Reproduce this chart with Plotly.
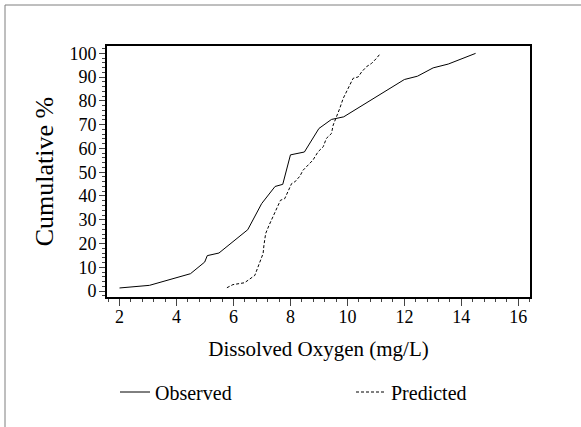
import plotly.graph_objects as go

obs_x = [2.0, 3.05, 4.49, 4.99, 5.08, 5.49, 6.5, 6.99, 7.46, 7.73, 8.0, 8.49, 9.0, 9.44, 9.87, 12.0, 12.46, 13.01, 13.54, 14.5]
obs_y = [1.3, 2.4, 7.3, 12.2, 14.9, 16.0, 25.8, 36.8, 44.0, 44.9, 57.3, 58.5, 68.4, 72.2, 73.3, 89.0, 90.4, 93.9, 95.5, 100.0]

pred_x = [5.77, 5.98, 6.39, 6.57, 6.75, 6.86, 6.98, 7.04, 7.07, 7.13, 7.25, 7.33, 7.45, 7.56, 7.65,
          7.80, 7.92, 8.04, 8.15, 8.33, 8.44, 8.62, 8.79, 8.97, 9.15, 9.26, 9.44, 9.50, 9.62, 9.73,
          9.85, 9.97, 10.08, 10.20, 10.38, 10.50, 10.67, 10.85, 11.02, 11.16]
pred_y = [1.4, 2.7, 3.5, 5.2, 6.6, 10.1, 13.6, 15.8, 19.3, 24.2, 27.7, 29.8, 32.6, 35.7, 38.2,
          38.9, 42.4, 45.2, 45.9, 48.3, 50.8, 53.0, 55.1, 58.6, 60.7, 64.2, 66.3, 69.8, 73.3, 76.8,
          81.0, 83.8, 86.6, 89.5, 90.1, 92.2, 94.4, 95.8, 97.9, 100.0]

x_ticks = [2, 4, 6, 8, 10, 12, 14, 16]
y_ticks = [0, 10, 20, 30, 40, 50, 60, 70, 80, 90, 100]

FONT = "Liberation Serif"

fig = go.Figure()
fig.add_trace(go.Scatter(x=obs_x, y=obs_y, mode="lines", name="Observed", legend="legend",
                         line=dict(color="black", width=1)))
fig.add_trace(go.Scatter(x=pred_x, y=pred_y, mode="lines", name="Predicted", legend="legend2",
                         line=dict(color="black", width=1, dash="3px,2px")))

W, H = 581, 427
L, R, T, B = 107, 51, 46, 130
pw = W - L - R
ph = H - T - B

leg_common = dict(yanchor="middle", y=(H - B - 392) / ph, xanchor="left",
                  font=dict(size=20, family=FONT, color="black"), bgcolor="rgba(0,0,0,0)")

fig.update_layout(
    width=W, height=H,
    margin=dict(l=L, r=R, t=T, b=B, autoexpand=False),
    paper_bgcolor="white", plot_bgcolor="white",
    font=dict(family=FONT, color="black", size=16),
    showlegend=True,
    legend=dict(x=(115 - L) / pw, **leg_common),
    legend2=dict(x=(351 - L) / pw, **leg_common),
    xaxis=dict(range=[1.56, 16.41], tickvals=x_ticks, ticks="outside", ticklen=7, tickwidth=1,
               minor=dict(dtick=0.4, ticks="outside", ticklen=3, tickwidth=1, tick0=2),
               showline=True, linewidth=2, linecolor="black", mirror=True,
               showgrid=False, zeroline=False, automargin=False, ticklabelstandoff=-5,
               title=dict(text="Dissolved Oxygen (mg/L)", font=dict(size=21, family=FONT, color="black"), standoff=16),
               tickfont=dict(size=18, family=FONT, color="black")),
    yaxis=dict(range=[-2.5, 103.1], tickvals=y_ticks, ticks="outside", ticklen=6, tickwidth=1,
               minor=dict(dtick=2, ticks="outside", ticklen=3, tickwidth=1, tick0=0),
               showline=True, linewidth=2, linecolor="black", mirror=True,
               showgrid=False, zeroline=False, automargin=False, ticklabelstandoff=-1,
               title=dict(text="Cumulative %", font=dict(size=26, family=FONT, color="black"), standoff=8),
               tickfont=dict(size=18, family=FONT, color="black")),
)

fig.add_shape(type="rect", xref="paper", yref="paper",
              x0=(5 - L) / pw, x1=(W + 20 - L) / pw,
              y0=(H - B - (H + 20)) / ph, y1=1 + (T - 5) / ph,
              line=dict(color="#7f7f7f", width=1), layer="below")

fig.write_html("out.html", config={"displayModeBar": False},
               post_script="document.body.style.margin='0';")
